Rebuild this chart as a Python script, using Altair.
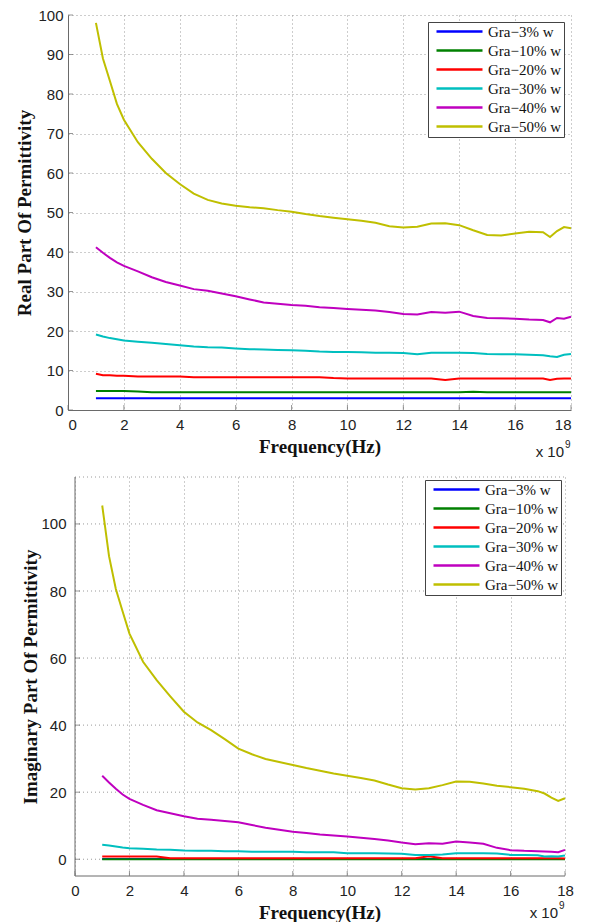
import altair as alt
import pandas as pd

# ---------------- data ----------------
freq = [1, 1.25, 1.5, 1.75, 2, 2.5, 3, 3.5, 4, 4.5, 5, 5.5, 6, 6.5, 7, 7.5, 8, 8.5, 9, 9.5,
        10, 10.5, 11, 11.5, 12, 12.5, 13, 13.5, 14, 14.5, 15, 15.5, 16, 16.5, 17, 17.25, 17.5, 17.75, 18]

names = ["Gra\u22123% w", "Gra\u221210% w", "Gra\u221220% w", "Gra\u221230% w", "Gra\u221240% w", "Gra\u221250% w"]
colors = ["#0000FF", "#008000", "#FF0000", "#00BFBF", "#BF00BF", "#BFBF00"]

# Real part of permittivity
real_3 = [3.0] * 39
real_10 = [4.8, 4.8, 4.8, 4.8, 4.8, 4.7, 4.5, 4.5, 4.5, 4.5, 4.5, 4.5, 4.5, 4.5, 4.5, 4.5, 4.5, 4.5, 4.5, 4.5,
           4.5, 4.5, 4.5, 4.5, 4.5, 4.5, 4.5, 4.5, 4.5, 4.6, 4.5, 4.5, 4.5, 4.5, 4.5, 4.5, 4.5, 4.5, 4.5]
real_20 = [9.2, 8.8, 8.8, 8.7, 8.7, 8.5, 8.5, 8.5, 8.5, 8.3, 8.3, 8.3, 8.3, 8.3, 8.3, 8.3, 8.3, 8.3, 8.3, 8.1,
           8.0, 8.0, 8.0, 8.0, 8.0, 8.0, 8.0, 7.6, 8.0, 8.0, 8.0, 8.0, 8.0, 8.0, 8.0, 7.6, 7.9, 8.0, 8.0]
real_30 = [19.1, 18.6, 18.2, 17.9, 17.6, 17.3, 17.0, 16.7, 16.4, 16.1, 15.9, 15.8, 15.6, 15.4, 15.3, 15.2, 15.1, 15.0, 14.8, 14.7,
           14.7, 14.6, 14.5, 14.5, 14.4, 14.1, 14.5, 14.5, 14.5, 14.4, 14.2, 14.1, 14.1, 14.0, 13.85, 13.6, 13.4, 14.0, 14.2]
real_40 = [41.2, 39.8, 38.5, 37.4, 36.5, 35.1, 33.6, 32.4, 31.5, 30.6, 30.2, 29.5, 28.8, 28.0, 27.2, 26.9, 26.6, 26.4, 26.0, 25.8,
           25.6, 25.4, 25.2, 24.8, 24.3, 24.2, 24.8, 24.6, 24.9, 23.8, 23.3, 23.2, 23.1, 22.9, 22.8, 22.2, 23.3, 23.1, 23.6]
real_50 = [98.0, 89.0, 83.3, 77.5, 73.5, 67.8, 63.6, 60.0, 57.2, 54.8, 53.2, 52.3, 51.7, 51.3, 51.1, 50.6, 50.2, 49.6, 49.1, 48.7,
           48.3, 47.9, 47.4, 46.5, 46.2, 46.4, 47.2, 47.3, 46.8, 45.5, 44.3, 44.2, 44.7, 45.1, 45.0, 43.8, 45.3, 46.3, 46.0]

# Imaginary part of permittivity
imag_3 = [0.05] * 39
imag_10 = [0.0] * 39
imag_20 = [0.8, 0.8, 0.8, 0.8, 0.8, 0.8, 0.8, 0.3, 0.3, 0.3, 0.3, 0.3, 0.3, 0.3, 0.3, 0.3, 0.3, 0.3, 0.3, 0.3,
           0.3, 0.3, 0.3, 0.3, 0.3, 0.3, 0.9, 0.3, 0.3, 0.3, 0.3, 0.3, 0.3, 0.3, 0.3, 0.3, 0.3, 0.3, 0.2]
imag_30 = [4.3, 4.1, 3.8, 3.5, 3.3, 3.1, 2.9, 2.8, 2.6, 2.5, 2.5, 2.4, 2.4, 2.2, 2.2, 2.2, 2.2, 2.1, 2.1, 2.1,
           1.8, 1.8, 1.8, 1.7, 1.6, 1.3, 1.3, 1.4, 1.8, 1.8, 1.8, 1.7, 1.3, 1.3, 1.2, 0.8, 0.9, 0.8, 1.1]
imag_40 = [24.9, 22.9, 21.0, 19.3, 18.0, 16.2, 14.6, 13.7, 12.8, 12.1, 11.8, 11.4, 11.0, 10.2, 9.4, 8.8, 8.2, 7.8, 7.4, 7.1,
           6.8, 6.4, 6.0, 5.6, 5.0, 4.5, 4.8, 4.6, 5.3, 5.0, 4.6, 3.4, 2.7, 2.5, 2.4, 2.3, 2.2, 2.1, 2.8]
imag_50 = [105.5, 90.4, 80.6, 73.9, 67.3, 58.9, 53.4, 48.6, 44.0, 40.8, 38.5, 35.8, 33.0, 31.3, 29.9, 29.0, 28.1, 27.2, 26.4, 25.6,
           24.9, 24.2, 23.5, 22.3, 21.2, 20.8, 21.2, 22.1, 23.2, 23.1, 22.6, 21.9, 21.5, 21.0, 20.3, 19.6, 18.4, 17.4, 18.2]

x_ticks = [0, 2, 4, 6, 8, 10, 12, 14, 16, 18]
y_ticks_top = [0, 10, 20, 30, 40, 50, 60, 70, 80, 90, 100]
y_ticks_bot = [0, 20, 40, 60, 80, 100]


def long_df(series):
    rows = []
    for name, vals in zip(names, series):
        for f, v in zip(freq, vals):
            rows.append({"f": f, "v": v, "s": name})
    return pd.DataFrame(rows)


df_real = long_df([real_3, real_10, real_20, real_30, real_40, real_50])
df_imag = long_df([imag_3, imag_10, imag_20, imag_30, imag_40, imag_50])

# ---------------- style ----------------
W = 503
H1 = 395
H2 = 399
AXIS_COL = "#6a6a6a"
GRID_COL = "#9a9a9a"
SANS = "Liberation Sans"
SERIF = "Liberation Serif"


def axis(values, title, grid, domain, label_pad, title_pad, orient):
    return alt.Axis(values=values, title=title, grid=grid, gridColor=GRID_COL, gridDash=[1, 3],
                    gridWidth=1, ticks=False, tickSize=0, domain=domain, domainColor=AXIS_COL,
                    labelFont=SANS, labelFontSize=15, labelColor="#222222", labelPadding=label_pad,
                    titleFont=SERIF, titleFontSize=19, titleFontWeight="bold", titleColor="#111111",
                    titlePadding=title_pad, orient=orient)


def legend(lx, ly):
    return alt.Legend(title=None, orient="none", legendX=lx, legendY=ly, symbolType="stroke",
                      symbolSize=2116, symbolStrokeWidth=2.5, clipHeight=15, symbolOffset=5,
                      labelOffset=4, labelFont=SERIF, labelFontSize=15, labelColor="#111111",
                      padding=2, rowPadding=3, strokeColor="#444444", fillColor="white")


def panel(df, xdom, ydom, yticks, ytitle, H, lx, ly, ylabel_pad, ytitle_pad, use_rules, sc_dy):
    x_enc = alt.X("f:Q", scale=alt.Scale(domain=xdom, nice=False, zero=False),
                  axis=axis(x_ticks, "Frequency(Hz)", True, not use_rules, 7, 5, "bottom"))
    y_enc = alt.Y("v:Q", scale=alt.Scale(domain=ydom, nice=False, zero=False),
                  axis=axis(yticks, ytitle, not use_rules, not use_rules, ylabel_pad, ytitle_pad, "left"))
    ymin, ymax = ydom
    layers = []
    if use_rules:
        grid_df = pd.DataFrame({"f": [0] * (len(yticks) + 1), "f2": [18] * (len(yticks) + 1),
                                "v": yticks + [ymax]})
        layers.append(alt.Chart(grid_df).mark_rule(color=GRID_COL, strokeDash=[1, 3], strokeWidth=1)
                      .encode(x=x_enc, x2="f2:Q", y=y_enc))
        xl = pd.DataFrame({"f": [0], "f2": [18], "v": [ymin]})
        layers.append(alt.Chart(xl).mark_rule(color=AXIS_COL, strokeWidth=1)
                      .encode(x=x_enc, x2="f2:Q", y=y_enc))
        yl = pd.DataFrame({"f": [0], "v": [ymin], "v2": [ymax]})
        layers.append(alt.Chart(yl).mark_rule(color=AXIS_COL, strokeWidth=1)
                      .encode(x=x_enc, y=y_enc, y2="v2:Q"))
    xt = pd.DataFrame({"f": x_ticks, "v": [ymin] * len(x_ticks)})
    layers.append(alt.Chart(xt).mark_tick(orient="vertical", size=5, thickness=1, yOffset=-2.5,
                                          color=AXIS_COL).encode(x=x_enc, y=y_enc))
    yt = pd.DataFrame({"f": [0] * len(yticks), "v": yticks})
    layers.append(alt.Chart(yt).mark_tick(orient="horizontal", size=5, thickness=1, xOffset=2.5,
                                          color=AXIS_COL).encode(x=x_enc, y=y_enc))
    lines = alt.Chart(df).mark_line(strokeWidth=2).encode(
        x=x_enc, y=y_enc,
        color=alt.Color("s:N", scale=alt.Scale(domain=names, range=colors), legend=legend(lx, ly)),
    )
    layers.append(lines)
    # scale factor label "x 10^9"
    px_per = W / (xdom[1] - xdom[0])
    x_end = (18 - xdom[0]) * px_per
    t1 = alt.Chart(pd.DataFrame({"t": ["x 10"]})).mark_text(
        font=SANS, fontSize=15, align="right", baseline="middle", color="#222222"
    ).encode(x=alt.value(x_end - 7), y=alt.value(H + sc_dy), text="t:N")
    t2 = alt.Chart(pd.DataFrame({"t": ["9"]})).mark_text(
        font=SANS, fontSize=10, align="left", baseline="middle", color="#222222"
    ).encode(x=alt.value(x_end - 6), y=alt.value(H + sc_dy - 7), text="t:N")
    layers += [t1, t2]
    return alt.layer(*layers).properties(width=W, height=H)


# bottom panel: plot origin shifted so that 0 sits 7px to the right of the top panel's 0
px_bot = 490 / 18.0
xdom_bot = [-7 / px_bot, 18 + 6 / px_bot]

top = panel(df_real, [0, 18], [0, 100], y_ticks_top, "Real Part Of Permittivity", H1,
            360, 7, 5, 3, False, 42)
bottom = panel(df_imag, xdom_bot, [-5, 114], y_ticks_bot, "Imaginary Part Of Permittivity", H2,
               357, 3, 2, 0, True, 37)

chart = alt.vconcat(top, bottom, spacing=16).resolve_scale(color="independent").resolve_legend(
    color="independent"
).properties(padding={"left": 7, "top": 0, "right": 5, "bottom": 2}).configure_view(stroke=None)

chart.save("out.html", embed_options={"renderer": "svg", "actions": False})
